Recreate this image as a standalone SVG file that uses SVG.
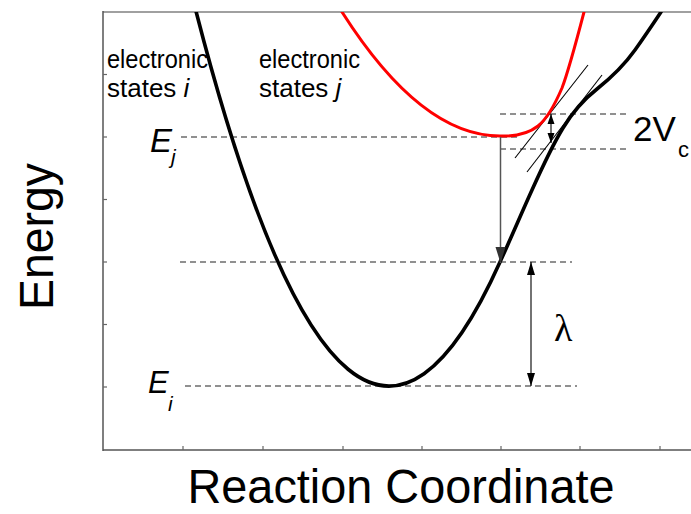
<svg xmlns="http://www.w3.org/2000/svg" width="691" height="514" viewBox="0 0 691 514">
<style>
.axis{stroke:#555;stroke-width:1.5;fill:none}
.tick{stroke:#666;stroke-width:1.2}
.dash{stroke:#222;stroke-width:1.2;stroke-dasharray:6 4;fill:none}
.thin{stroke:#000;stroke-width:1.1;fill:none}
.arr{stroke:#555;stroke-width:1.5;fill:none}
.curve-i{stroke:#000;stroke-width:3.6;fill:none;stroke-linecap:round;stroke-linejoin:round}
.curve-j{stroke:#f00;stroke-width:3;fill:none;stroke-linecap:round;stroke-linejoin:round}
.sans{font-family:"Liberation Sans",Arial,sans-serif;fill:#000}
.it{font-style:italic}
</style>
<defs>
<clipPath id="plot"><rect x="103" y="12" width="588" height="438"/></clipPath>
<marker id="headL" markerUnits="userSpaceOnUse" markerWidth="16" markerHeight="10" refX="16" refY="5" orient="auto" overflow="visible"><path d="M0,0 L16,5 L0,10 z" fill="#333"/></marker>
<marker id="headM" markerUnits="userSpaceOnUse" markerWidth="13" markerHeight="8" refX="13" refY="4" orient="auto-start-reverse" overflow="visible"><path d="M0,0 L13,4 L0,8 z" fill="#000"/></marker>
<marker id="headS" markerUnits="userSpaceOnUse" markerWidth="10" markerHeight="7" refX="10" refY="3.5" orient="auto-start-reverse" overflow="visible"><path d="M0,0 L10,3.5 L0,7 z" fill="#000"/></marker>
</defs>

<g id="axes">
<line x1="103" y1="12" x2="691" y2="12" stroke="#808080" stroke-width="1.5"/>
<line class="axis" x1="103" y1="11" x2="103" y2="451" stroke="#333"/>
<line class="axis" x1="103" y1="450" x2="691" y2="450"/>
<g class="tick">
<line x1="103" y1="74.5" x2="107" y2="74.5"/>
<line x1="103" y1="137" x2="107" y2="137"/>
<line x1="103" y1="199.5" x2="107" y2="199.5"/>
<line x1="103" y1="262" x2="107" y2="262"/>
<line x1="103" y1="324.5" x2="107" y2="324.5"/>
<line x1="103" y1="387" x2="107" y2="387"/>
<line x1="183" y1="450" x2="183" y2="446"/>
<line x1="263" y1="450" x2="263" y2="446"/>
<line x1="343" y1="450" x2="343" y2="446"/>
<line x1="422" y1="450" x2="422" y2="446"/>
<line x1="501" y1="450" x2="501" y2="446"/>
<line x1="580" y1="450" x2="580" y2="446"/>
<line x1="660" y1="450" x2="660" y2="446"/>
</g>
<text class="sans" x="401" y="503" font-size="49" text-anchor="middle" textLength="427" lengthAdjust="spacingAndGlyphs">Reaction Coordinate</text>
<text class="sans" transform="translate(53,236.5) rotate(-90)" font-size="49" text-anchor="middle" textLength="147" lengthAdjust="spacingAndGlyphs">Energy</text>
</g>

<g id="levels">
<line class="dash" x1="181" y1="137" x2="518" y2="137"/>
<line class="dash" x1="180" y1="262" x2="572" y2="262"/>
<line class="dash" x1="185" y1="386" x2="577" y2="386"/>
<line class="dash" x1="500" y1="114" x2="628" y2="114"/>
<line class="dash" x1="500" y1="149" x2="628" y2="149"/>
</g>

<g id="tangents">
<line class="thin" x1="515" y1="158" x2="588" y2="65"/>
<line class="thin" x1="527" y1="172" x2="602" y2="75"/>
</g>

<g id="state-i" clip-path="url(#plot)">
<path class="curve-i" d="M196.2,12 Q348.1,601.5 500,262 C511,238 522,212 532,190 C541,170 552,146 563,128 C572,113 583,100 597,89 C612,77 625,64 635,50 C645,36 653,24 661,12"/>
</g>

<g id="state-j" clip-path="url(#plot)">
<path class="curve-j" d="M342,12 Q421,136 500,136 C515,136.5 528,134 538,126 C548,118 556,102 562,88 C568,72 578,35 584,12"/>
</g>

<g id="connectors">
<line class="arr" x1="500.5" y1="137" x2="500.5" y2="263" marker-end="url(#headL)"/>
<line class="thin" x1="531" y1="262" x2="531" y2="386" marker-start="url(#headM)" marker-end="url(#headM)"/>
<line class="thin" x1="551" y1="114" x2="551" y2="143" marker-start="url(#headS)" marker-end="url(#headS)"/>
</g>

<g id="labels">
<text class="sans" x="107" y="68" font-size="26" textLength="101" lengthAdjust="spacingAndGlyphs">electronic</text>
<text class="sans" x="107" y="97" font-size="26">states <tspan class="it">i</tspan></text>
<text class="sans" x="259" y="68" font-size="26" textLength="101" lengthAdjust="spacingAndGlyphs">electronic</text>
<text class="sans" x="259" y="97" font-size="26">states <tspan class="it">j</tspan></text>
<text class="sans it" x="150" y="152" font-size="33">E</text>
<text class="sans it" x="171" y="164" font-size="21">j</text>
<text class="sans it" x="148" y="393" font-size="31">E</text>
<text class="sans it" x="168" y="411" font-size="21">i</text>
<text class="sans" x="633" y="141" font-size="35">2V</text>
<text class="sans" x="678" y="157" font-size="22">c</text>
<text x="554" y="341" font-size="38" font-family="'Liberation Serif','Times New Roman',serif">λ</text>
</g>
</svg>
